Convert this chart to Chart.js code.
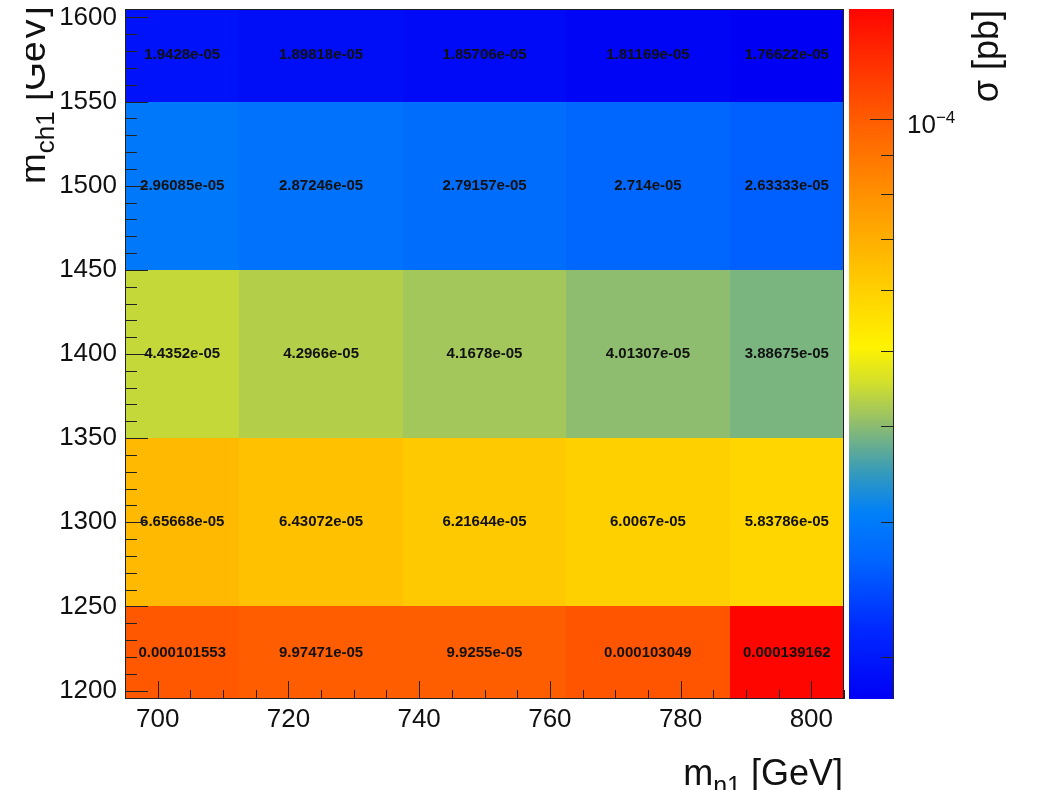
<!DOCTYPE html>
<html>
<head>
<meta charset="utf-8">
<script src="https://cdn.jsdelivr.net/npm/chart.js@4.4.1/dist/chart.umd.min.js"></script>
<style>
html, body { margin: 0; padding: 0; background: #fff; }
#wrap { width: 1038px; height: 790px; }
</style>
</head>
<body>
<div id="wrap"><canvas id="xsecChart"></canvas></div>
<script>
// bin centres (GeV)
var mN1 = [700, 725, 750, 775, 800]
var mCh1 = [1200, 1300, 1400, 1500, 1600]
var binWidthX = 25
var binWidthY = 100

// sigma [pb], one row per m_ch1 bin
var sigma1200 = [0.000101553, 9.97471e-05, 9.9255e-05, 0.000103049, 0.000139162]
var sigma1300 = [6.65668e-05, 6.43072e-05, 6.21644e-05, 6.0067e-05, 5.83786e-05]
var sigma1400 = [4.4352e-05, 4.2966e-05, 4.1678e-05, 4.01307e-05, 3.88675e-05]
var sigma1500 = [2.96085e-05, 2.87246e-05, 2.79157e-05, 2.714e-05, 2.63333e-05]
var sigma1600 = [1.9428e-05, 1.89818e-05, 1.85706e-05, 1.81169e-05, 1.76622e-05]
var sigmaRows = [sigma1200, sigma1300, sigma1400, sigma1500, sigma1600]

// axis ranges and ticks
var xRange = [695, 805]
var yRange = [1195, 1605]
var xTicks = [700, 720, 740, 760, 780, 800]
var yTicks = [1200, 1250, 1300, 1350, 1400, 1450, 1500, 1550, 1600]
var xMinorStep = 5
var yMinorStep = 10
var zTicks = [2e-5, 3e-5, 4e-5, 5e-5, 6e-5, 7e-5, 8e-5, 9e-5, 1e-4]
var zLabelled = [1e-4]

var allSigma = [].concat.apply([], sigmaRows)
var zMin = Math.min.apply(null, allSigma)
var zMax = Math.max.apply(null, allSigma)

// rainbow-ish palette, position 0..1 -> rgb
var paletteStops = [
    [0.00, 0, 0, 245],
    [0.10, 0, 40, 255],
    [0.20, 0, 100, 255],
    [0.27, 0, 128, 248],
    [0.33, 55, 155, 185],
    [0.40, 145, 190, 108],
    [0.46, 212, 224, 42],
    [0.51, 255, 243, 0],
    [0.60, 255, 205, 0],
    [0.72, 255, 150, 0],
    [0.84, 255, 92, 0],
    [1.00, 255, 5, 0]
]

function paletteColor(f) {
    f = Math.max(0, Math.min(1, f))
    for (var i = 1; i < paletteStops.length; i++) {
        var a = paletteStops[i-1], b = paletteStops[i]
        if (f <= b[0]) {
            var t = (f - a[0]) / (b[0] - a[0])
            var r = Math.round(a[1] + t*(b[1]-a[1]))
            var g = Math.round(a[2] + t*(b[2]-a[2]))
            var bl = Math.round(a[3] + t*(b[3]-a[3]))
            return 'rgb(' + r + ',' + g + ',' + bl + ')'
        }
    }
    return 'rgb(255,5,0)'
}

function zFraction(v) {
    return (Math.log10(v) - Math.log10(zMin)) / (Math.log10(zMax) - Math.log10(zMin))
}

// printf %g style, 6 significant digits
function formatG(v) {
    var e = Math.floor(Math.log10(Math.abs(v)))
    if (e < -4 || e >= 6) {
        var parts = v.toExponential(5).split('e')
        var mant = parts[0].replace(/\.?0+$/, '')
        var ex = parseInt(parts[1], 10)
        var sign = ex < 0 ? '-' : '+'
        var ea = Math.abs(ex)
        return mant + 'e' + sign + (ea < 10 ? '0' + ea : ea)
    }
    return v.toPrecision(6).replace(/(\.\d*?)0+$/, '$1').replace(/\.$/, '')
}

var cellCentres = []
for (var r = 0; r < mCh1.length; r++) {
    for (var c = 0; c < mN1.length; c++) {
        cellCentres.push({x: mN1[c], y: mCh1[r], v: sigmaRows[r][c]})
    }
}

var FONT = '"Liberation Sans", Arial, Helvetica, sans-serif'

function noPadding(scale) {
    scale.paddingTop = 0
    scale.paddingBottom = 0
    scale.paddingLeft = 0
    scale.paddingRight = 0
}

var histPlugin = {
    id: 'hist2d',
    beforeDatasetsDraw: function(chart) {
        var ctx = chart.ctx
        var xs = chart.scales.x, ys = chart.scales.y
        ctx.save()
        for (var r = 0; r < mCh1.length; r++) {
            for (var c = 0; c < mN1.length; c++) {
                var x0 = Math.max(mN1[c] - binWidthX/2, xRange[0])
                var x1 = Math.min(mN1[c] + binWidthX/2, xRange[1])
                var y0 = Math.max(mCh1[r] - binWidthY/2, yRange[0])
                var y1 = Math.min(mCh1[r] + binWidthY/2, yRange[1])
                var px0 = Math.round(xs.getPixelForValue(x0)), px1 = Math.round(xs.getPixelForValue(x1))
                var py0 = Math.round(ys.getPixelForValue(y0)), py1 = Math.round(ys.getPixelForValue(y1))
                ctx.fillStyle = paletteColor(zFraction(sigmaRows[r][c]))
                ctx.fillRect(px0, py1, px1 - px0, py0 - py1)
            }
        }
        // cell text
        ctx.fillStyle = '#111'
        ctx.font = 'bold 15px ' + FONT
        ctx.textAlign = 'center'
        ctx.textBaseline = 'middle'
        for (var r = 0; r < mCh1.length; r++) {
            for (var c = 0; c < mN1.length; c++) {
                var x0 = Math.max(mN1[c] - binWidthX/2, xRange[0])
                var x1 = Math.min(mN1[c] + binWidthX/2, xRange[1])
                var y0 = Math.max(mCh1[r] - binWidthY/2, yRange[0])
                var y1 = Math.min(mCh1[r] + binWidthY/2, yRange[1])
                ctx.fillText(formatG(sigmaRows[r][c]), xs.getPixelForValue((x0+x1)/2), ys.getPixelForValue((y0+y1)/2))
            }
        }
        ctx.restore()
    },
    afterDraw: function(chart) {
        var ctx = chart.ctx
        var area = chart.chartArea
        var xs = chart.scales.x, ys = chart.scales.y, zs = chart.scales.z
        ctx.save()
        ctx.strokeStyle = '#222'
        ctx.lineWidth = 1

        // ticks inside the frame
        ctx.beginPath()
        for (var v = Math.ceil(yRange[0]/yMinorStep)*yMinorStep; v <= yRange[1]; v += yMinorStep) {
            var py = Math.round(ys.getPixelForValue(v)) + 0.5
            var len = yTicks.indexOf(v) >= 0 ? 23 : 12
            ctx.moveTo(area.left, py)
            ctx.lineTo(area.left + len, py)
        }
        for (var v = Math.ceil(xRange[0]/xMinorStep)*xMinorStep; v <= xRange[1]; v += xMinorStep) {
            var px = Math.round(xs.getPixelForValue(v)) + 0.5
            var len = xTicks.indexOf(v) >= 0 ? 18 : 9
            ctx.moveTo(px, area.bottom)
            ctx.lineTo(px, area.bottom - len)
        }
        ctx.stroke()

        // frame
        ctx.strokeRect(area.left + 0.5, area.top + 0.5, area.right - area.left - 1, area.bottom - area.top - 1)

        // colour bar
        var barL = zs.left + 5, barR = zs.left + 50
        var barT = zs.top, barB = zs.bottom
        var grad = ctx.createLinearGradient(0, barB, 0, barT)
        paletteStops.forEach(function(s) {
            grad.addColorStop(s[0], 'rgb(' + s[1] + ',' + s[2] + ',' + s[3] + ')')
        })
        ctx.fillStyle = grad
        ctx.fillRect(barL, barT, barR - barL, barB - barT)
        ctx.beginPath()
        ctx.moveTo(barR - 0.5, barT)
        ctx.lineTo(barR - 0.5, barB)
        zTicks.forEach(function(t) {
            var py = Math.round(zs.getPixelForValue(t)) + 0.5
            var len = zLabelled.indexOf(t) >= 0 ? 24 : 13
            ctx.moveTo(barR, py)
            ctx.lineTo(barR - len, py)
        })
        ctx.stroke()

        // colour bar label 10^-4
        ctx.fillStyle = '#111'
        ctx.textAlign = 'left'
        ctx.textBaseline = 'alphabetic'
        zLabelled.forEach(function(t) {
            var py = zs.getPixelForValue(t)
            var ex = Math.round(Math.log10(t))
            ctx.font = '26px ' + FONT
            ctx.fillText('10', barR + 13, py + 13.5)
            var w = ctx.measureText('10').width
            ctx.font = '17px ' + FONT
            ctx.fillText(ex < 0 ? '\u2212' + Math.abs(ex) : String(ex), barR + 13 + w, py + 3.5)
        })

        // x title  m_n1 [GeV]
        ctx.font = '36px ' + FONT
        var wM = ctx.measureText('m').width
        var wUnit = ctx.measureText(' [GeV]').width
        ctx.font = '25px ' + FONT
        var wSub = ctx.measureText('n1').width
        var xStart = area.right - 1 - (wM + wSub + wUnit)
        var base = 785
        ctx.font = '36px ' + FONT
        ctx.fillText('m', xStart, base)
        ctx.fillText(' [GeV]', xStart + wM + wSub, base)
        ctx.font = '25px ' + FONT
        ctx.fillText('n1', xStart + wM, base + 9)

        // y title  m_ch1 [GeV], rotated; the strip left of x=26 is blank in the picture
        ctx.save()
        ctx.beginPath()
        ctx.rect(26, 0, 200, 300)
        ctx.clip()
        ctx.translate(45, 184)
        ctx.rotate(-Math.PI/2)
        ctx.font = '37px ' + FONT
        ctx.fillText('m', 0, 0)
        var wm = ctx.measureText('m').width
        ctx.font = '26px ' + FONT
        ctx.fillText('ch1', wm, 9)
        var ws = ctx.measureText('ch1').width
        ctx.font = '37px ' + FONT
        ctx.fillText(' [GeV]', wm + ws, 0)
        ctx.restore()

        // z title
        ctx.save()
        ctx.translate(998, 10)
        ctx.rotate(-Math.PI/2)
        ctx.font = '36px ' + FONT
        ctx.textAlign = 'right'
        ctx.fillStyle = '#111'
        ctx.fillText('\u03c3 [pb]', 0, 0)
        ctx.restore()

        ctx.restore()
    }
}

var ctx = document.getElementById('xsecChart').getContext('2d')

var chart = new Chart(ctx, {
    type: 'scatter',
    data: {
        datasets: [{
            label: 'sigma',
            data: cellCentres,
            pointRadius: 0,
            pointHoverRadius: 0
        }]
    },
    options: {
        responsive: true,
        maintainAspectRatio: false,
        animation: false,
        events: [],
        layout: { padding: { top: 9, left: 0, right: 0, bottom: 0 } },
        plugins: { legend: { display: false }, tooltip: { enabled: false } },
        scales: {
            x: {
                type: 'linear',
                min: xRange[0],
                max: xRange[1],
                afterBuildTicks: function(scale) { scale.ticks = xTicks.map(function(v) { return {value: v} }) },
                afterFit: function(scale) { scale.height = 91; noPadding(scale) },
                grid: { display: false, drawTicks: false },
                border: { display: false },
                ticks: {
                    color: '#111', font: { family: FONT, size: 26 }, padding: 5, maxRotation: 0, autoSkip: false,
                    callback: function(v) { return String(v) }
                }
            },
            y: {
                type: 'linear',
                min: yRange[0],
                max: yRange[1],
                afterBuildTicks: function(scale) { scale.ticks = yTicks.map(function(v) { return {value: v} }) },
                afterFit: function(scale) { scale.width = 125; noPadding(scale) },
                grid: { display: false, drawTicks: false },
                border: { display: false },
                ticks: {
                    color: '#111', font: { family: FONT, size: 26 }, padding: 8, autoSkip: false,
                    callback: function(v) { return String(v) }
                }
            },
            z: {
                type: 'logarithmic',
                position: 'right',
                min: zMin,
                max: zMax,
                afterFit: function(scale) { scale.width = 194; noPadding(scale) },
                grid: { display: false, drawTicks: false },
                border: { display: false },
                ticks: { display: false }
            }
        }
    },
    plugins: [histPlugin]
})
</script>
</body>
</html>
